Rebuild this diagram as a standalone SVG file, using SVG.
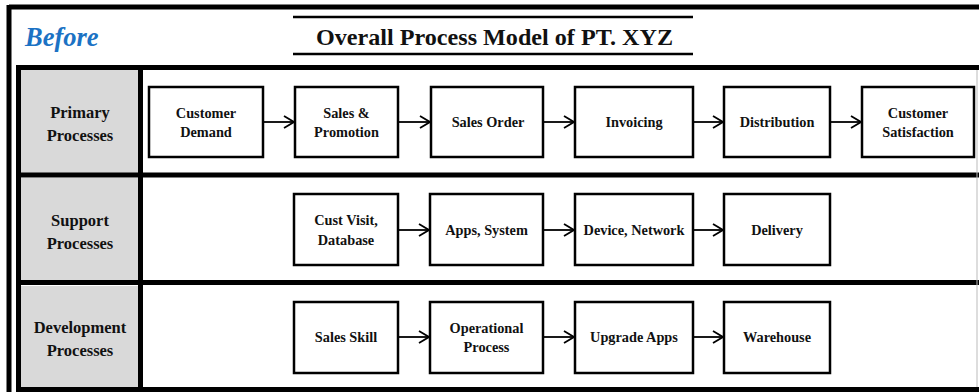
<svg xmlns="http://www.w3.org/2000/svg" width="979" height="392" viewBox="0 0 979 392">
<defs>
<style>
.box{fill:#fff;stroke:#000;stroke-width:2.5}
.bt{font-family:"Liberation Serif","Times New Roman",serif;font-weight:bold;font-size:14.3px;fill:#111;text-anchor:middle}
.lt{font-family:"Liberation Serif","Times New Roman",serif;font-weight:bold;font-size:16.5px;fill:#111;text-anchor:middle}
.thick{stroke:#000;stroke-width:5;fill:none}
.conn{stroke:#000;stroke-width:1.8;fill:none}
</style>
<marker id="arr" viewBox="0 0 12 14" refX="11" refY="7" markerWidth="12" markerHeight="14" markerUnits="userSpaceOnUse" orient="auto">
<path d="M1,1 L11,7 L1,13" fill="none" stroke="#000" stroke-width="1.8"/>
</marker>
</defs>
<rect width="979" height="392" fill="#fff"/>
<!-- outer frame -->
<line x1="9" y1="7" x2="979" y2="7" class="thick" stroke-width="4"/>
<line x1="9" y1="5" x2="9" y2="392" class="thick" stroke-width="4"/>
<!-- header -->
<text x="25" y="46" font-family="Liberation Serif,'Times New Roman',serif" font-weight="bold" font-style="italic" font-size="26.5" fill="#1b72c4">Before</text>
<line x1="293" y1="17" x2="693" y2="17" stroke="#000" stroke-width="2.5"/>
<line x1="293" y1="54" x2="693" y2="54" stroke="#000" stroke-width="2.5"/>
<text x="494.5" y="45" font-family="Liberation Serif,'Times New Roman',serif" font-weight="bold" font-size="22.5" fill="#111" text-anchor="middle" textLength="357" lengthAdjust="spacingAndGlyphs">Overall Process Model of PT. XYZ</text>
<!-- table -->
<g id="table">
<rect x="21" y="70" width="117" height="103" fill="#d9d9d9"/>
<rect x="21" y="178" width="117" height="103" fill="#d9d9d9"/>
<rect x="21" y="286" width="117" height="101" fill="#d9d9d9"/>
<line x1="18.5" y1="65" x2="18.5" y2="392" class="thick"/>
<line x1="140.5" y1="65" x2="140.5" y2="392" class="thick"/>
<line x1="16" y1="67.5" x2="979" y2="67.5" class="thick"/>
<line x1="16" y1="175" x2="979" y2="175" class="thick"/>
<line x1="16" y1="282.5" x2="979" y2="282.5" class="thick"/>
<line x1="16" y1="389.5" x2="979" y2="389.5" class="thick"/>
<line x1="977" y1="70" x2="977" y2="387" stroke="#bbb" stroke-width="1"/>
</g>
<g id="lane-primary"><text class="lt" x="80" y="118">Primary</text><text class="lt" x="80" y="141">Processes</text></g>
<g id="lane-support"><text class="lt" x="80" y="226">Support</text><text class="lt" x="80" y="249">Processes</text></g>
<g id="lane-development"><text class="lt" x="80" y="333">Development</text><text class="lt" x="80" y="356">Processes</text></g>
<!-- row 1 -->
<g id="customer-demand"><rect class="box" x="149" y="87" width="114" height="70"/><text class="bt" x="206" y="118">Customer</text><text class="bt" x="206" y="137">Demand</text></g>
<g id="sales-promotion"><rect class="box" x="295" y="87" width="103" height="70"/><text class="bt" x="346.5" y="118">Sales &amp;</text><text class="bt" x="346.5" y="137">Promotion</text></g>
<g id="sales-order"><rect class="box" x="431" y="87" width="112" height="70"/><text class="bt" x="488" y="127">Sales Order</text></g>
<g id="invoicing"><rect class="box" x="575" y="87" width="118" height="70"/><text class="bt" x="634" y="127">Invoicing</text></g>
<g id="distribution"><rect class="box" x="724" y="87" width="106" height="70"/><text class="bt" x="777" y="127">Distribution</text></g>
<g id="customer-satisfaction"><rect class="box" x="862" y="87" width="112" height="70"/><text class="bt" x="918" y="118">Customer</text><text class="bt" x="918" y="137">Satisfaction</text></g>
<!-- row 2 -->
<g id="cust-visit"><rect class="box" x="294" y="194" width="104" height="71"/><text class="bt" x="346" y="225">Cust Visit,</text><text class="bt" x="346" y="245">Database</text></g>
<g id="apps-system"><rect class="box" x="430" y="194" width="113" height="71"/><text class="bt" x="486.5" y="235">Apps, System</text></g>
<g id="device-network"><rect class="box" x="575" y="194" width="118" height="71"/><text class="bt" x="634" y="235">Device, Network</text></g>
<g id="delivery"><rect class="box" x="724" y="194" width="106" height="71"/><text class="bt" x="777" y="235">Delivery</text></g>
<!-- row 3 -->
<g id="sales-skill"><rect class="box" x="294" y="302" width="104" height="71"/><text class="bt" x="346" y="342">Sales Skill</text></g>
<g id="operational-process"><rect class="box" x="430" y="302" width="113" height="71"/><text class="bt" x="486.5" y="333">Operational</text><text class="bt" x="486.5" y="352">Process</text></g>
<g id="upgrade-apps"><rect class="box" x="575" y="302" width="118" height="71"/><text class="bt" x="634" y="342">Upgrade Apps</text></g>
<g id="warehouse"><rect class="box" x="724" y="302" width="106" height="71"/><text class="bt" x="777" y="342">Warehouse</text></g>
<!-- connectors -->
<g id="connectors">
<line class="conn" x1="264" y1="122" x2="294" y2="122" marker-end="url(#arr)"/>
<line class="conn" x1="399" y1="122" x2="430" y2="122" marker-end="url(#arr)"/>
<line class="conn" x1="544" y1="122" x2="574" y2="122" marker-end="url(#arr)"/>
<line class="conn" x1="694" y1="122" x2="723" y2="122" marker-end="url(#arr)"/>
<line class="conn" x1="831" y1="122" x2="861" y2="122" marker-end="url(#arr)"/>
<line class="conn" x1="399" y1="230" x2="429" y2="230" marker-end="url(#arr)"/>
<line class="conn" x1="544" y1="230" x2="574" y2="230" marker-end="url(#arr)"/>
<line class="conn" x1="694" y1="230" x2="723" y2="230" marker-end="url(#arr)"/>
<line class="conn" x1="399" y1="337" x2="429" y2="337" marker-end="url(#arr)"/>
<line class="conn" x1="544" y1="337" x2="574" y2="337" marker-end="url(#arr)"/>
<line class="conn" x1="694" y1="337" x2="723" y2="337" marker-end="url(#arr)"/>
</g>
</svg>
